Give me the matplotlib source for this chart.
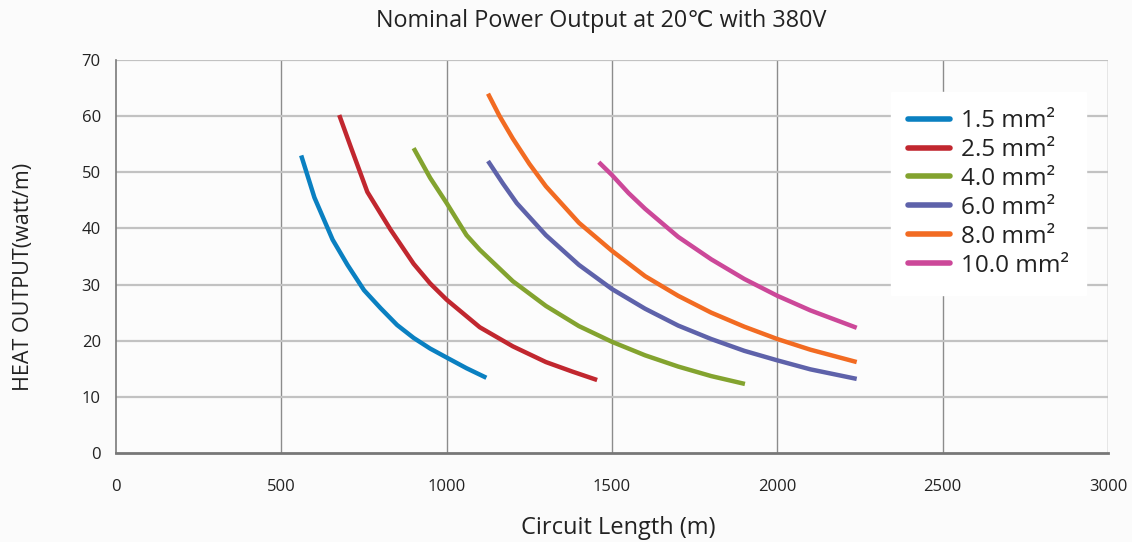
import matplotlib
matplotlib.use("Agg")
import matplotlib.pyplot as plt

plt.rcParams["font.family"] = ["Open Sans", "DejaVu Sans"]

# values (circuit length in m, heat output in W/m)
len_15 = [560, 600, 655, 700, 750, 800, 850, 900, 950, 1000, 1060, 1120]
out_15 = [53.0, 45.5, 38.0, 33.5, 29.0, 25.8, 22.8, 20.5, 18.6, 17.0, 15.1, 13.4]
len_25 = [675, 710, 760, 830, 900, 950, 1000, 1100, 1200, 1300, 1380, 1455]
out_25 = [60.2, 54.5, 46.5, 39.8, 33.7, 30.2, 27.3, 22.4, 19.0, 16.2, 14.5, 13.0]
len_40 = [900, 950, 1000, 1060, 1100, 1200, 1300, 1400, 1500, 1600, 1700, 1800, 1902]
out_40 = [54.3, 49.0, 44.5, 38.8, 36.2, 30.6, 26.2, 22.6, 19.8, 17.4, 15.4, 13.7, 12.3]
len_60 = [1125, 1170, 1212, 1300, 1400, 1500, 1600, 1700, 1800, 1900, 2000, 2100, 2240]
out_60 = [52.0, 48.0, 44.5, 38.8, 33.5, 29.2, 25.7, 22.7, 20.3, 18.2, 16.5, 14.9, 13.2]
len_80 = [1125, 1160, 1200, 1250, 1300, 1400, 1500, 1600, 1700, 1800, 1900, 2000, 2100, 2240]
out_80 = [64.0, 60.0, 56.0, 51.5, 47.5, 41.0, 36.0, 31.5, 28.0, 25.0, 22.5, 20.3, 18.4, 16.2]
len_100 = [1460, 1500, 1550, 1600, 1700, 1800, 1900, 2000, 2100, 2240]
out_100 = [51.8, 49.5, 46.3, 43.5, 38.5, 34.5, 31.0, 28.0, 25.4, 22.3]

labels = ["1.5 mm²", "2.5 mm²", "4.0 mm²", "6.0 mm²", "8.0 mm²", "10.0 mm²"]
colors = ["#0a80c1", "#c1272f", "#83a32f", "#5e62aa", "#f26b22", "#cc4899"]
series = [(len_15, out_15), (len_25, out_25), (len_40, out_40),
          (len_60, out_60), (len_80, out_80), (len_100, out_100)]

fig = plt.figure(figsize=(11.32, 5.42), dpi=100, facecolor="#fbfbfb")
ax = fig.add_axes([0.1025, 0.1642, 0.8763, 0.7251])
ax.set_facecolor("#fcfcfc")

for (xs, ys), lab, c in zip(series, labels, colors):
    ax.plot(xs, ys, color=c, lw=3.2, label=lab, solid_capstyle="butt")

ax.set_xlim(0, 3000)
ax.set_ylim(0, 70)
ax.set_xticks(range(0, 3001, 500))
ax.set_yticks(range(0, 71, 10))
ax.tick_params(length=0, labelsize=12, colors="#222222")
ax.tick_params(axis="x", pad=19)
ax.tick_params(axis="y", pad=11)

for v in range(500, 3001, 500):
    ax.axvline(v, color="#8c8c8c", lw=1.0, zorder=0)
for v in range(10, 71, 10):
    ax.axhline(v, color="#c2c2c2", lw=1.6, zorder=0)

for s in ["top", "right"]:
    ax.spines[s].set_visible(False)
ax.spines["left"].set_color("#7a7a7a")
ax.spines["left"].set_linewidth(1.2)
ax.spines["bottom"].set_color("#777777")
ax.spines["bottom"].set_linewidth(2.0)

ax.set_xlabel("Circuit Length (m)", fontsize=17, color="#222222")
ax.set_ylabel("HEAT OUTPUT(watt/m)", fontsize=15.5, color="#222222")
ax.xaxis.set_label_coords(0.506, -0.16)
ax.yaxis.set_label_coords(-0.083, 0.448)
fig.text(0.531, 0.962, "Nominal Power Output at 20\u2103 with 380V",
         ha="center", va="center", fontsize=16.8, color="#222222")

leg = ax.legend(loc="upper left", bbox_to_anchor=(0.781, 0.918), fontsize=17.5,
                frameon=True, fancybox=False, handlelength=1.75, handletextpad=0.45,
                labelspacing=0.2, borderpad=0.7, borderaxespad=0)
leg.get_frame().set_facecolor("white")
leg.get_frame().set_edgecolor("white")
leg.get_frame().set_alpha(1)
for h in leg.get_lines():
    h.set_linewidth(4)
    h.set_solid_capstyle("round")
for t in leg.get_texts():
    t.set_color("#222222")

fig.savefig("out.png", dpi=100, facecolor=fig.get_facecolor())
